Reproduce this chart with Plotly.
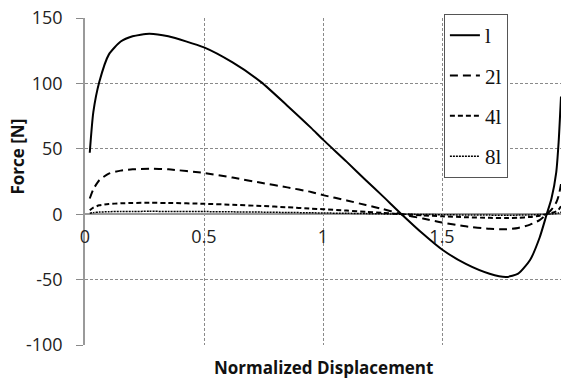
import plotly.graph_objects as go

# Normalized displacement samples
x_disp = [0.02, 0.035, 0.06, 0.1, 0.15, 0.2, 0.27, 0.35, 0.5, 0.62, 0.74, 0.85, 0.95, 1.0,
          1.1, 1.18, 1.25, 1.33, 1.42, 1.5, 1.6, 1.7, 1.77, 1.82, 1.87, 1.91, 1.94, 1.96,
          1.98, 1.99, 2.0]

force_l = [47, 78, 101, 122, 132, 136, 138, 136, 127.5, 116, 101, 83, 66, 57,
           40, 26, 14, 0, -15, -27, -38, -45.5, -48, -45.5, -35, -18, 0, 12,
           32, 55, 90]
force_2l = [12, 19, 26, 31, 33.3, 34.3, 34.8, 34.3, 31.5, 28, 24, 20.5, 17, 14.6,
            10.5, 7, 4, 0, -3.3, -6.3, -9.3, -11.2, -11.5, -10.5, -8, -4.5, 0, 3.5,
            9, 14, 23]
force_4l = [3, 5, 6.8, 7.8, 8.3, 8.6, 8.7, 8.6, 8, 7.2, 6.3, 5.3, 4.3, 3.8,
            2.8, 1.8, 1, 0, -0.9, -1.6, -2.3, -2.8, -2.9, -2.7, -2.1, -1.2, 0, 0.9,
            2.2, 3.5, 6]
force_8l = [0.7, 1.2, 1.6, 1.9, 2.1, 2.1, 2.2, 2.1, 2.0, 1.8, 1.6, 1.3, 1.1, 0.9,
            0.7, 0.45, 0.25, 0, -0.2, -0.4, -0.6, -0.7, -0.75, -0.7, -0.55, -0.3, 0, 0.2,
            0.5, 0.9, 1.5]

names = ["l", "2l", "4l", "8l"]
dashes = ["solid", "8px,5px", "5px,3px", "2px,1px"]
widths = [2, 2, 2, 1.5]
series = [force_l, force_2l, force_4l, force_8l]

x_ticks = [0, 0.5, 1, 1.5, 2]
x_tick_text = ["0", "0.5", "1", "1.5", "2"]
y_ticks = [-100, -50, 0, 50, 100, 150]
y_tick_text = ["-100", "-50", "0", "50", "100", "150"]

fig = go.Figure()
for name, ys, dash, w in zip(names, series, dashes, widths):
    fig.add_trace(go.Scatter(
        x=x_disp, y=ys, mode="lines", name=name, legendgroup=name,
        line=dict(color="black", width=w, dash=dash, shape="spline", smoothing=0.6),
    ))

grid = "#8a8a8a"
fig.update_layout(
    width=566, height=384,
    margin=dict(l=85, r=5, t=15, b=39),
    paper_bgcolor="white", plot_bgcolor="white",
    font=dict(family="Open Sans", size=18, color="#222"),
    showlegend=True,
    legend=dict(
        x=0.754, y=1.012, xanchor="left", yanchor="top",
        bgcolor="white", bordercolor="#555", borderwidth=1,
        font=dict(family="Liberation Serif", size=21, color="#111"),
        tracegroupgap=10, itemwidth=30,
    ),
    xaxis=dict(
        range=[0, 2], tickvals=x_ticks, ticktext=x_tick_text,
        showgrid=True, gridcolor=grid, griddash="3px,2px", gridwidth=1,
        zeroline=False, showline=False,
        anchor="free", position=0.4,
        ticks="", ticklabelstandoff=10,
    ),
    yaxis=dict(
        range=[-100, 150], tickvals=y_ticks, ticktext=y_tick_text,
        showgrid=True, gridcolor=grid, griddash="3px,2px", gridwidth=1,
        zeroline=True, zerolinecolor="#9a9a9a", zerolinewidth=1.5,
        showline=True, linecolor="#9a9a9a", linewidth=1.5,
        ticks="outside", ticklen=7, tickcolor=grid, ticklabelstandoff=10,
    ),
    annotations=[
        dict(text="<b>Force [N]</b>", textangle=-90, xref="paper", yref="paper",
             x=-0.141, y=0.576, xanchor="center", yanchor="middle", showarrow=False,
             font=dict(family="Open Sans", size=17, color="#111")),
        dict(text="<b>Normalized Displacement</b>", xref="paper", yref="paper",
             x=0.5, y=-0.07, xanchor="center", yanchor="middle", showarrow=False,
             font=dict(family="Open Sans", size=17, color="#111")),
    ],
)

fig.write_html("out.html")
